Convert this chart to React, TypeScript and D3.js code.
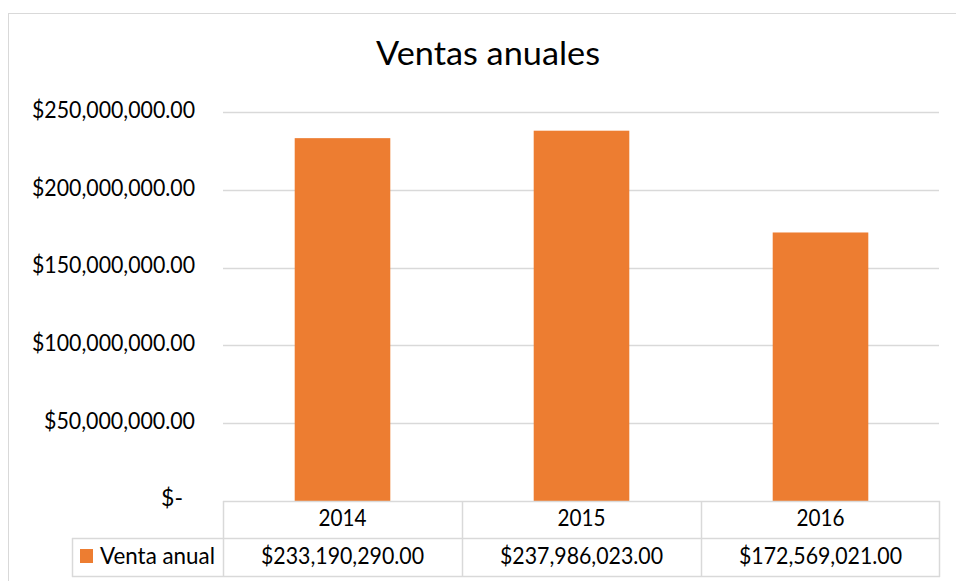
import React from "react";
import * as d3 from "d3";

const categories = ["2014", "2015", "2016"];
const seriesName = "Venta anual";
const values = [233190290, 237986023, 172569021];
const yTicks = [0, 50000000, 100000000, 150000000, 200000000, 250000000];
const title = "Ventas anuales";

const W = 956;
const H = 581;
const FONT = "Lato, 'Open Sans', sans-serif";
const ORANGE = "#ED7D31";
const GRID = "#D9D9D9";

const fmtMoney = (v: number) => (v === 0 ? "$-" : "$" + d3.format(",.2f")(v));
// Calibri-like width for the money strings (measured 163px for 15 chars)
const moneyWidth = (s: string) => 163 - (15 - s.length) * 12;

export default function App() {
  const left = 223;
  const right = 940;
  const top = 112;
  const bottom = 501;
  const row1 = 538;
  const row2 = 576;
  const legendLeft = 72;
  const fs = 23;

  const y = d3.scaleLinear().domain([0, 250000000]).range([bottom, top]);
  const x = d3.scaleBand().domain(categories).range([left, right]).paddingInner(0.6).paddingOuter(0.3);
  const col = d3.scaleBand().domain(categories).range([left, right]).padding(0);

  return (
    <svg width={W} height={H} style={{ position: "absolute", left: 0, top: 0, background: "#fff" }}>
      <rect x={0} y={0} width={W} height={H} fill="#fff" />
      <rect x={8.5} y={13.5} width={1200} height={1200} fill="none" stroke={GRID} strokeWidth={1} />
      <text x={488} y={57} textAnchor="middle" dominantBaseline="middle" fontFamily={FONT} fontSize={32} fill="#000" textLength={224} lengthAdjust="spacingAndGlyphs">
        {title}
      </text>
      {yTicks.filter((t) => t > 0).map((t) => (
        <line key={"g" + t} x1={left} x2={right - 1} y1={Math.round(y(t)) + 0.5} y2={Math.round(y(t)) + 0.5} stroke={GRID} strokeWidth={1.5} />
      ))}
      {yTicks.map((t) =>
        t === 0 ? (
          <text key={"t" + t} x={183} y={y(t) - 1} textAnchor="end" dominantBaseline="middle" fontFamily={FONT} fontSize={fs} fill="#000">
            {fmtMoney(t)}
          </text>
        ) : (
          <text key={"t" + t} x={195} y={y(t)} textAnchor="end" dominantBaseline="middle" fontFamily={FONT} fontSize={fs} fill="#000" textLength={moneyWidth(fmtMoney(t))} lengthAdjust="spacingAndGlyphs">
            {fmtMoney(t)}
          </text>
        )
      )}
      {categories.map((c, i) => (
        <rect key={"b" + c} x={x(c)!} y={y(values[i])} width={x.bandwidth()} height={bottom - y(values[i])} fill={ORANGE} />
      ))}
      <g stroke={GRID} strokeWidth={1.5} fill="none">
        <line x1={left} x2={right} y1={bottom + 0.5} y2={bottom + 0.5} />
        <line x1={legendLeft} x2={right} y1={row1 + 0.5} y2={row1 + 0.5} />
        <line x1={legendLeft} x2={right} y1={row2 + 0.5} y2={row2 + 0.5} />
        <line x1={legendLeft + 0.5} x2={legendLeft + 0.5} y1={row1} y2={row2 + 1} />
        {categories.map((c) => (
          <line key={"v" + c} x1={col(c)! + 0.5} x2={col(c)! + 0.5} y1={bottom} y2={row2 + 1} />
        ))}
        <line x1={right - 0.5} x2={right - 0.5} y1={bottom} y2={row2 + 1} />
      </g>
      {categories.map((c, i) => (
        <g key={"c" + c}>
          <text x={col(c)! + col.bandwidth() / 2} y={(bottom + row1) / 2 + 1} textAnchor="middle" dominantBaseline="middle" fontFamily={FONT} fontSize={fs} fill="#000" textLength={48} lengthAdjust="spacingAndGlyphs">
            {c}
          </text>
          <text x={col(c)! + col.bandwidth() / 2} y={(row1 + row2) / 2 + 1} textAnchor="middle" dominantBaseline="middle" fontFamily={FONT} fontSize={fs} fill="#000" textLength={moneyWidth(fmtMoney(values[i]))} lengthAdjust="spacingAndGlyphs">
            {fmtMoney(values[i])}
          </text>
        </g>
      ))}
      <rect x={80} y={549} width={13} height={14} fill={ORANGE} />
      <text x={100} y={(row1 + row2) / 2 + 1} dominantBaseline="middle" fontFamily={FONT} fontSize={fs} fill="#000" textLength={115} lengthAdjust="spacingAndGlyphs">
        {seriesName}
      </text>
    </svg>
  );
}
